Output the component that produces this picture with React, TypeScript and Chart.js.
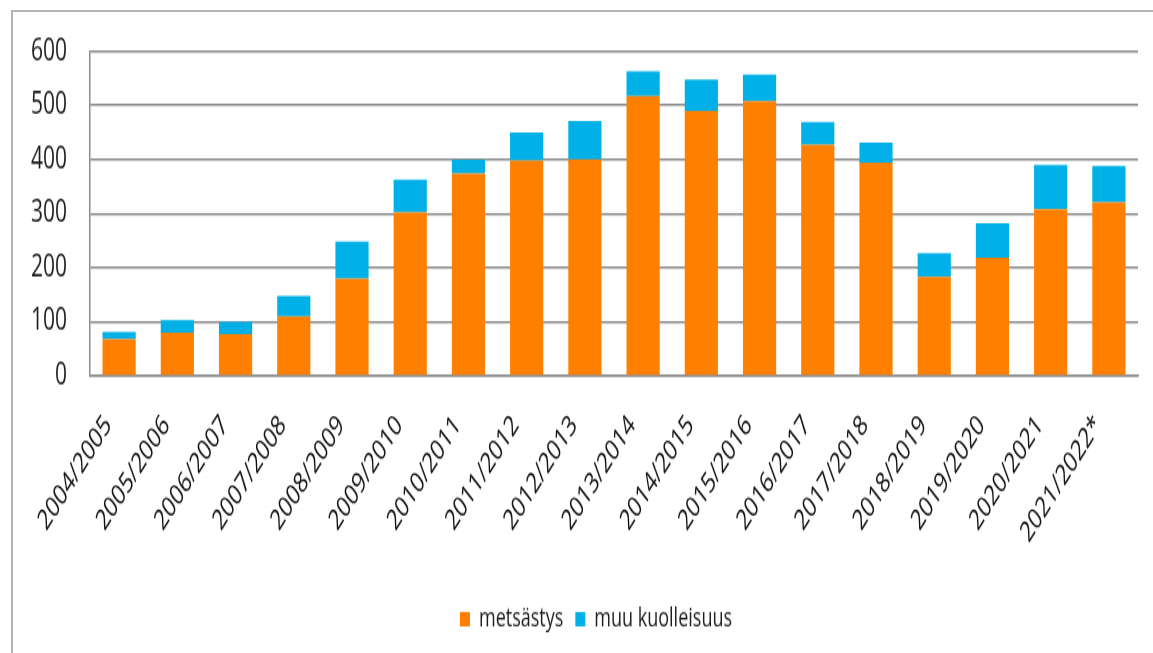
import React, { useEffect, useRef } from "react";
import { Chart, registerables } from "chart.js";

Chart.register(...registerables);

const categories = [
  "2004/2005", "2005/2006", "2006/2007", "2007/2008", "2008/2009", "2009/2010",
  "2010/2011", "2011/2012", "2012/2013", "2013/2014", "2014/2015", "2015/2016",
  "2016/2017", "2017/2018", "2018/2019", "2019/2020", "2020/2021", "2021/2022*",
];
const huntingValues = [68, 80, 77, 110, 180, 302, 374, 398, 400, 517, 490, 508, 427, 394, 183, 218, 308, 321];
const otherValues = [13, 23, 23, 38, 68, 61, 25, 52, 71, 46, 58, 49, 42, 37, 44, 64, 82, 67];
const seriesNames = ["metsästys", "muu kuolleisuus"];
const yMin = 0;
const yMax = 600;
const yStep = 100;

const W = 1153;
const H = 653;
const STRETCH = 1.44;
const CH = Math.round(H / STRETCH);

const legendShift = {
  id: "legendShift",
  afterLayout(chart: any) {
    const l = chart.legend;
    if (l) {
      l.left += 54;
      l.width = l.right - l.left;
    }
  },
};

export default function App() {
  const ref = useRef<HTMLCanvasElement | null>(null);

  useEffect(() => {
    if (!ref.current) return;
    const font = "'Open Sans', sans-serif";
    const chart = new Chart(ref.current, {
      type: "bar",
      data: {
        labels: categories,
        datasets: [
          {
            label: seriesNames[0],
            data: huntingValues,
            backgroundColor: "#FF8000",
            barPercentage: 0.57,
            categoryPercentage: 1,
          },
          {
            label: seriesNames[1],
            data: otherValues,
            backgroundColor: "#00B0E6",
            barPercentage: 0.57,
            categoryPercentage: 1,
          },
        ],
      },
      plugins: [legendShift],
      options: {
        responsive: false,
        animation: false,
        layout: { padding: { left: 0, right: 15, top: 26, bottom: 4 } },
        plugins: {
          tooltip: { enabled: false },
          legend: {
            position: "bottom",
            labels: {
              boxWidth: 10,
              boxHeight: 10,
              padding: 12,
              color: "#1e1e1e",
              font: { family: font, size: 18 },
            },
          },
        },
        scales: {
          x: {
            stacked: true,
            grid: { display: false },
            border: { display: true, color: "#8c8c8c", width: 1.5 },
            ticks: {
              minRotation: 48,
              maxRotation: 48,
              padding: 15,
              labelOffset: -11,
              color: "#111",
              font: { family: font, size: 20 },
            },
            afterFit: (scale: any) => {
              scale.height = 148;
              scale.paddingLeft = 0;
              scale.paddingRight = 0;
            },
          },
          y: {
            stacked: true,
            min: yMin,
            max: yMax,
            grid: { color: "#8c8c8c", lineWidth: 1.5, drawTicks: false },
            border: { display: true, color: "#8c8c8c", width: 1.5 },
            ticks: {
              stepSize: yStep,
              padding: 23,
              color: "#1e1e1e",
              font: { family: font, size: 21 },
            },
            afterFit: (scale: any) => {
              scale.width = 90;
            },
          },
        },
      },
    });
    return () => chart.destroy();
  }, []);

  return (
    <div
      style={{
        position: "fixed",
        left: 0,
        top: 0,
        width: W,
        height: H,
        background: "#fff",
        overflow: "hidden",
      }}
    >
      <div
        style={{
          position: "absolute",
          left: 11,
          top: 10,
          width: W,
          height: H,
          borderTop: "2px solid #b4b4b4",
          borderLeft: "2px solid #b4b4b4",
        }}
      />
      <canvas
        ref={ref}
        width={W}
        height={CH}
        style={{
          position: "absolute",
          left: 0,
          top: 0,
          width: W,
          height: CH,
          transform: `scaleY(${STRETCH})`,
          transformOrigin: "0 0",
        }}
      />
    </div>
  );
}
